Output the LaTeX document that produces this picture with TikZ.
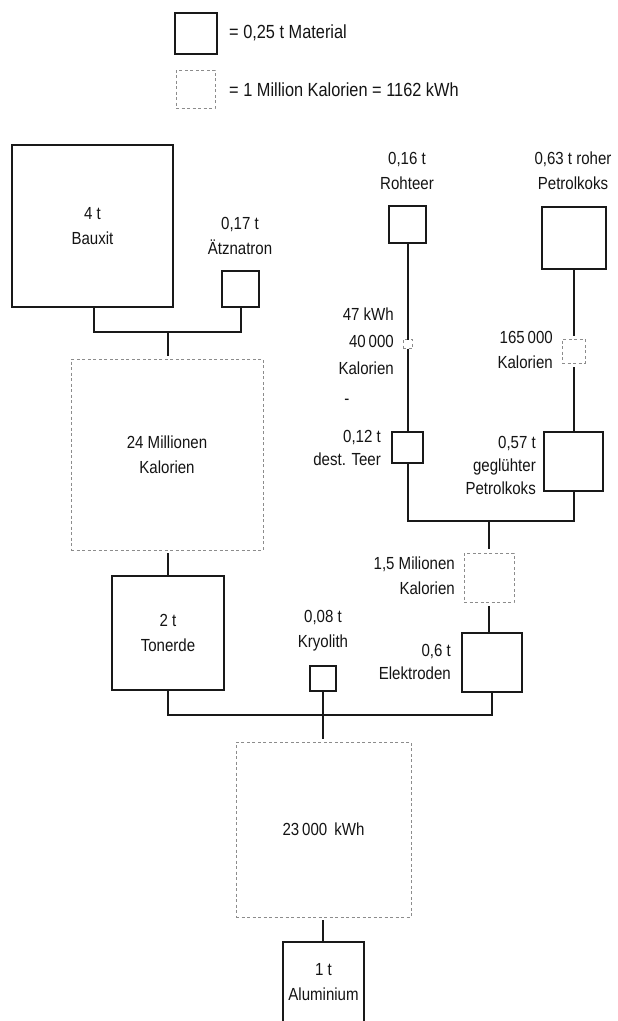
\documentclass[tikz,border=0pt]{standalone}
\usepackage{fontspec}
\setmainfont{Liberation Sans}[FakeStretch=0.86]
\begin{document}
\begin{tikzpicture}[x=1pt,y=-1pt,
  mat/.style={draw=black!90, line width=2pt, inner sep=0pt, outer sep=0pt, align=center, text=black!92,
    font=\fontsize{17.5}{25}\selectfont},
  kal/.style={draw=black!45, line width=0.6pt, dash pattern=on 3pt off 2.5pt, inner sep=0pt, outer sep=0pt,
    align=center, text=black!92, font=\fontsize{17.5}{25}\selectfont},
  conn/.style={draw=black!90, line width=2pt},
  lbl/.style={inner sep=0pt, align=center, text=black!92, font=\fontsize{17.5}{25}\selectfont},
  leg/.style={lbl, anchor=west, font=\fontsize{19}{25}\selectfont},
  lblr/.style={lbl, align=right, anchor=east},
  lblt/.style={lbl, font=\fontsize{17.5}{23}\selectfont},
  lbltr/.style={lblt, align=right, anchor=east}]
\useasboundingbox[fill=white] (0,0) rectangle (618,1021);

% legend
\node[mat, minimum width=42pt, minimum height=41pt] (legmat) at (196,33.5) {};
\node[leg] (legmattxt) at (229,33) {= 0,25 t Material};
\node[kal, minimum width=39pt, minimum height=38pt] (legkal) at (195.5,89) {};
\node[leg] (legkaltxt) at (229,90) {= 1 Million Kalorien = 1162 kWh};

% left branch
\node[mat, minimum width=161pt, minimum height=162pt] (bauxit) at (92.5,226) {4 t\\Bauxit};
\node[mat, minimum width=37pt, minimum height=36pt] (atz) at (240.5,289) {};
\node[lbl] (atztxt) at (240,236) {0,17 t\\Ätznatron};
\node[kal, minimum width=192pt, minimum height=191pt] (kal24) at (167,454.5) {24 Millionen\\Kalorien};
\node[mat, minimum width=112pt, minimum height=114pt] (tonerde) at (168,633) {2 t\\Tonerde};

% right branch
\node[mat, minimum width=37pt, minimum height=37pt] (rohteer) at (407.5,224.5) {};
\node[lbl] (rohteertxt) at (407,171) {0,16 t\\Rohteer};
\node[mat, minimum width=64pt, minimum height=62pt] (pkroh) at (574,238) {};
\node[lbl] (pkrohtxt) at (573,171) {0,63 t roher\\Petrolkoks};
\node[kal, minimum width=9pt, minimum height=9pt] (kal40) at (407.5,344) {};
\node[lblr, font=\fontsize{17.5}{27}\selectfont] (kal40txt) at (394,341) {47 kWh\\40\,000\\Kalorien};
\node[lbl] (dash) at (347,402) {-};
\node[kal, minimum width=23pt, minimum height=24pt] (kal165) at (573.5,351) {};
\node[lblr] (kal165txt) at (553,349.5) {165\,000\\Kalorien};
\node[mat, minimum width=31pt, minimum height=31pt] (teer) at (407.5,447.5) {};
\node[lbltr] (teertxt) at (381,448) {0,12 t\\dest. Teer};
\node[mat, minimum width=59pt, minimum height=59pt] (pkgl) at (573.5,461.5) {};
\node[lbltr] (pkgltxt) at (536,465) {0,57 t\\geglühter\\Petrolkoks};
\node[kal, minimum width=50pt, minimum height=49pt] (kal15) at (489,577.5) {};
\node[lblr] (kal15txt) at (455,575.5) {1,5 Milionen\\Kalorien};
\node[mat, minimum width=60pt, minimum height=59pt] (elek) at (492,662.5) {};
\node[lbltr] (elektxt) at (451,661.5) {0,6 t\\Elektroden};

% bottom
\node[mat, minimum width=26pt, minimum height=25pt] (kryo) at (323,678.5) {};
\node[lbl] (kryotxt) at (323,630.5) {0,08 t\\Kryolith};
\node[kal, minimum width=175pt, minimum height=175pt] (kwh) at (323.5,829.5) {23\,000\, kWh};
\node[mat, minimum width=81pt, minimum height=81pt] (alu) at (323.5,982.5) {1 t\\Aluminium};

% connectors
\coordinate (b1) at (168,332);
\draw[conn] (bauxit.south -| 94,0) -- (94,332) -- (atz.south |- b1) -- (atz.south);
\draw[conn] (b1) -- (b1 |- 0,356);
\draw[conn] (tonerde.north |- 0,553) -- (tonerde.north);

\draw[conn] (rohteer.south) -- (kal40.north);
\draw[conn] (kal40.south) -- (teer.north);
\draw[conn] (pkroh.south) -- (pkroh.south |- 0,336);
\draw[conn] (pkgl.north |- 0,367) -- (pkgl.north);

\coordinate (b2) at (489,521);
\draw[conn] (teer.south) -- (teer.south |- b2) -- (pkgl.south |- b2) -- (pkgl.south);
\draw[conn] (b2) -- (b2 |- 0,549);
\draw[conn] (kal15.south |- 0,606) -- (kal15.south |- elek.north);

\coordinate (b3) at (323,715);
\draw[conn] (tonerde.south) -- (tonerde.south |- b3) -- (elek.south |- b3) -- (elek.south);
\draw[conn] (kryo.south) -- (b3);
\draw[conn] (b3) -- (b3 |- 0,739);
\draw[conn] (b3 |- 0,920) -- (b3 |- alu.north);
\end{tikzpicture}
\end{document}
